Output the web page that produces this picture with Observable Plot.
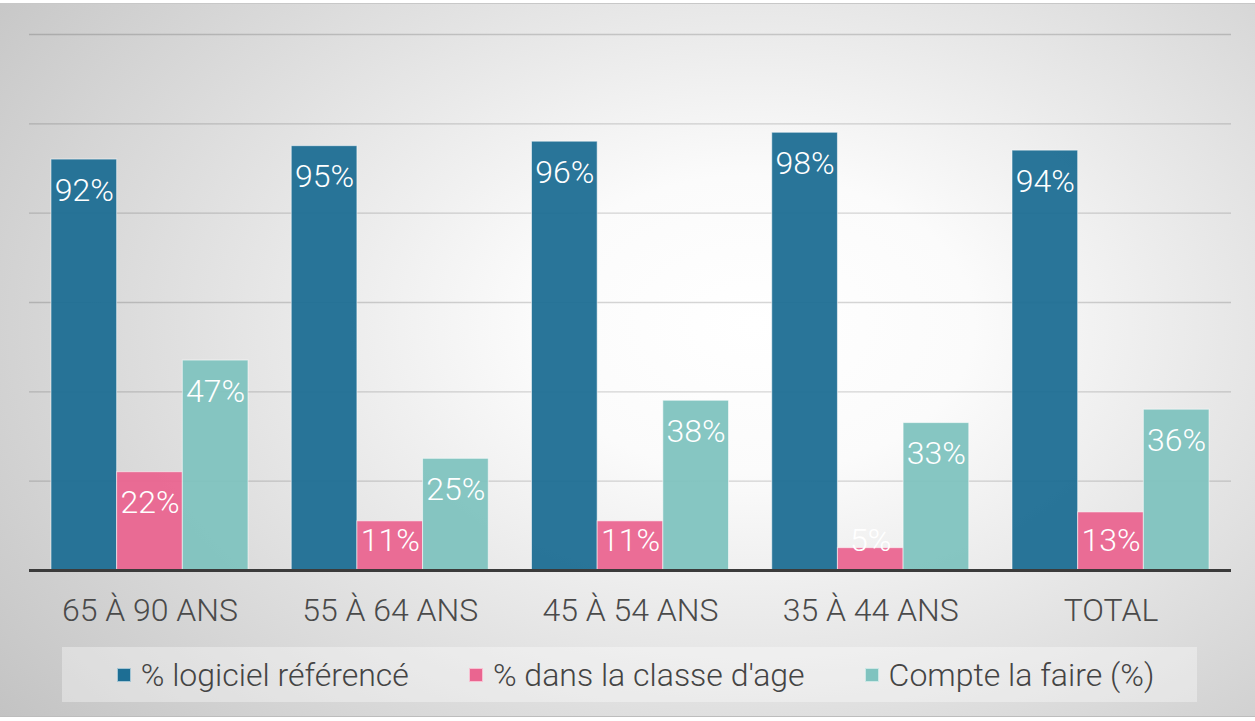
<!DOCTYPE html>
<html>
<head>
<meta charset="utf-8">
<script src="https://cdn.jsdelivr.net/npm/d3@7"></script>
<script src="https://cdn.jsdelivr.net/npm/@observablehq/plot@0.6"></script>
<style>
  html, body { margin: 0; padding: 0; background: #fff; width: 1255px; height: 721px; overflow: hidden; }
  #wrap {
    position: absolute; left: 0; top: 3px; width: 1255px; height: 714px;
    background: radial-gradient(ellipse 80% 95% at 60% 45%, #ffffff 0%, #fbfbfb 22%, #bfbfbf 100%);
    border-top: 1px solid #c8c8c8; border-bottom: 1px solid #bdbdbd; box-sizing: border-box;
  }
  .layer { position: absolute; left: 0; top: 0; }
  .layer svg { overflow: visible; display: block; }
  #legend {
    position: absolute; left: 62px; top: 647px; width: 1135px; height: 55px;
    background: rgba(255,255,255,0.35); box-sizing: border-box; padding-left: 12px;
    display: flex; align-items: center; justify-content: center; gap: 60px;
    font-family: Roboto, sans-serif; font-weight: 300; font-size: 32px; color: #444;
  }
  .item { display: flex; align-items: center; gap: 10px; }
  .sw { width: 14px; height: 14px; box-sizing: border-box; border: 1px solid rgba(255,255,255,0.6); }
</style>
</head>
<body>
<div id="wrap"></div>
<div id="grid" class="layer"></div>
<div id="chart" class="layer"></div>
<div id="base" class="layer"></div>
<div id="legend"></div>
<script>
const categories = ["65 À 90 ANS", "55 À 64 ANS", "45 À 54 ANS", "35 À 44 ANS", "TOTAL"];
const seriesNames = ["% logiciel référencé", "% dans la classe d'age", "Compte la faire (%)"];
const logicielReference = [92, 95, 96, 98, 94];
const classeAge = [22, 11, 11, 5, 13];
const compteLaFaire = [47, 25, 38, 33, 36];
const seriesColors = ["#1d6e94", "#ea6590", "#80c3bf"];
const gridTicks = [20, 40, 60, 80, 100, 120];

const seriesValues = [logicielReference, classeAge, compteLaFaire];
const data = [];
categories.forEach((c, i) => {
  seriesNames.forEach((s, j) => {
    data.push({cat: c, series: s, value: seriesValues[j][i]});
  });
});

const common = {
  width: 1255,
  height: 640,
  marginTop: 34,
  marginBottom: 70,
  marginLeft: 29,
  marginRight: 24,
  y: {domain: [0, 120], axis: null}
};
const baseStyle = {background: "transparent", fontFamily: "Roboto, sans-serif", fontSize: "32px", fontWeight: 300, color: "#4a4a4a"};

const gridPlot = Plot.plot({
  ...common,
  style: baseStyle,
  x: {axis: null},
  marks: [
    Plot.ruleY(gridTicks, {stroke: "#000", strokeOpacity: 0.16, strokeWidth: 1.3})
  ]
});
document.getElementById("grid").appendChild(gridPlot);

const chart = Plot.plot({
  ...common,
  style: baseStyle,
  fx: {domain: categories, paddingInner: 0.18, paddingOuter: 0.0915, round: false, axis: "bottom", tickSize: 0, tickPadding: 28, label: null},
  x: {domain: seriesNames, padding: 0, round: false, axis: null},
  color: {domain: seriesNames, range: seriesColors},
  marks: [
    Plot.barY(data, {fx: "cat", x: "series", y: "value", fill: "series", fillOpacity: 0.95, stroke: "#fff", strokeOpacity: 0.55, strokeWidth: 1}),
    Plot.text(data, {fx: "cat", x: "series", y: d => Math.max(d.value, 13.7), text: d => d.value + "%", dy: 31, fill: "white", fontSize: 32, fontWeight: 300})
  ]
});
document.getElementById("chart").appendChild(chart);

const basePlot = Plot.plot({
  ...common,
  style: baseStyle,
  x: {axis: null},
  marks: [
    Plot.ruleY([0], {stroke: "#3b3b3b", strokeWidth: 3})
  ]
});
document.getElementById("base").appendChild(basePlot);

const legend = document.getElementById("legend");
seriesNames.forEach((s, j) => {
  const item = document.createElement("div");
  item.className = "item";
  const sw = document.createElement("div");
  sw.className = "sw";
  sw.style.background = seriesColors[j];
  const label = document.createElement("span");
  label.textContent = s;
  item.appendChild(sw);
  item.appendChild(label);
  legend.appendChild(item);
});
</script>
</body>
</html>
